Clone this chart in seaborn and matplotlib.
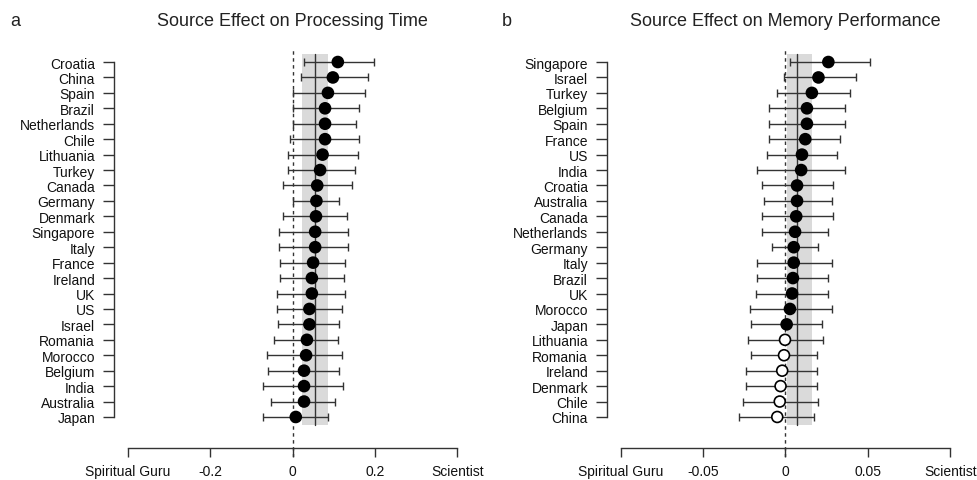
import matplotlib
matplotlib.use("Agg")
import matplotlib.pyplot as plt
import numpy as np
import pandas as pd
import seaborn as sns

# ---- Panel a: source effect on processing time (country estimates, 95% CI) ----
time_countries = ["Croatia", "China", "Spain", "Brazil", "Netherlands", "Chile",
                  "Lithuania", "Turkey", "Canada", "Germany", "Denmark", "Singapore",
                  "Italy", "France", "Ireland", "UK", "US", "Israel", "Romania",
                  "Morocco", "Belgium", "India", "Australia", "Japan"]
time_est = [0.110, 0.098, 0.086, 0.079, 0.079, 0.079, 0.073, 0.067, 0.060, 0.058,
            0.057, 0.055, 0.055, 0.050, 0.047, 0.047, 0.041, 0.041, 0.035, 0.033,
            0.028, 0.028, 0.028, 0.008]
time_lo = [0.028, 0.021, 0.002, 0.002, 0.002, -0.006, -0.012, -0.012, -0.024, 0.002,
           -0.024, -0.032, -0.032, -0.030, -0.030, -0.038, -0.038, -0.034, -0.045,
           -0.063, -0.059, -0.071, -0.051, -0.071]
time_hi = [0.198, 0.183, 0.176, 0.162, 0.155, 0.162, 0.160, 0.152, 0.144, 0.114,
           0.133, 0.135, 0.135, 0.127, 0.125, 0.127, 0.119, 0.114, 0.110, 0.119,
           0.114, 0.123, 0.103, 0.087]
time_pooled = [0.0545, 0.022, 0.086]          # estimate, lower, upper
time_ticks = [-0.4, -0.2, 0.0, 0.2, 0.4]
time_ticklabels = ["Spiritual Guru", "-0.2", "0", "0.2", "Scientist"]

# ---- Panel b: source effect on memory performance ----
mem_countries = ["Singapore", "Israel", "Turkey", "Belgium", "Spain", "France", "US",
                 "India", "Croatia", "Australia", "Canada", "Netherlands", "Germany",
                 "Italy", "Brazil", "UK", "Morocco", "Japan", "Lithuania", "Romania",
                 "Ireland", "Denmark", "Chile", "China"]
mem_est = [0.026, 0.020, 0.016, 0.013, 0.013, 0.012, 0.010, 0.0095, 0.007, 0.007,
           0.0065, 0.0058, 0.005, 0.005, 0.0045, 0.004, 0.0027, 0.0007, -0.0003,
           -0.0009, -0.002, -0.003, -0.0035, -0.005]
mem_lo = [0.003, -0.001, -0.005, -0.010, -0.010, -0.010, -0.011, -0.017, -0.014,
          -0.013, -0.014, -0.014, -0.008, -0.017, -0.017, -0.018, -0.0215, -0.021,
          -0.023, -0.021, -0.024, -0.024, -0.026, -0.028]
mem_hi = [0.051, 0.043, 0.039, 0.036, 0.036, 0.033, 0.031, 0.036, 0.029, 0.028,
          0.029, 0.026, 0.020, 0.028, 0.026, 0.026, 0.028, 0.022, 0.023, 0.019,
          0.019, 0.019, 0.020, 0.017]
mem_pooled = [0.0067, 0.001, 0.0158]
mem_ticks = [-0.1, -0.05, 0.0, 0.05, 0.1]
mem_ticklabels = ["Spiritual Guru", "-0.05", "0", "0.05", "Scientist"]

sns.set_style("ticks")
plt.rcParams["font.family"] = ["Liberation Sans", "DejaVu Sans"]

W, H = 978, 481
fig = plt.figure(figsize=(W / 100, H / 100), dpi=100)


def forest(ax, countries, est, lo, hi, pooled, ticks, ticklabels):
    n = len(countries)
    df = pd.DataFrame({
        "country": countries,
        "est": est,
        "lo": lo,
        "hi": hi,
        "pos": np.arange(n, 0, -1),
    })
    df["sign"] = np.where(df["est"] > 0, "pos", "neg")

    span = ticks[-1] - ticks[0]
    ax.set_xlim(ticks[0] - 0.04 * span, ticks[-1] + 0.04 * span)
    ax.set_ylim(-1.6, n + 0.85)

    # pooled estimate: shaded interval and solid line
    ax.fill_betweenx([0.5, n + 0.5], pooled[1], pooled[2],
                     color="#dadada", lw=0, zorder=0)
    ax.plot([pooled[0], pooled[0]], [0.5, n + 0.5], color="#333333", lw=1.0, zorder=1)
    # zero reference
    ax.axvline(0, color="#333333", lw=1.0, ls=(0, (2.5, 2.5)), zorder=1)

    ax.errorbar(df["est"], df["pos"],
                xerr=[df["est"] - df["lo"], df["hi"] - df["est"]],
                fmt="none", ecolor="#333333", elinewidth=1.0,
                capsize=3, capthick=1.0, zorder=2)
    sns.scatterplot(data=df, x="est", y="pos", hue="sign",
                    palette={"pos": "black", "neg": "white"},
                    edgecolor="black", linewidth=1.2, s=62,
                    legend=False, zorder=3, ax=ax)

    ax.set_yticks(df["pos"])
    ax.set_yticklabels(df["country"], fontsize=10)
    ax.set_xticks(ticks)
    ax.set_xticklabels(ticklabels, fontsize=10)
    ax.set_xlabel("")
    ax.set_ylabel("")

    for s in ("top", "right"):
        ax.spines[s].set_visible(False)
    for s in ("left", "bottom"):
        ax.spines[s].set_color("#333333")
        ax.spines[s].set_linewidth(1.0)
    ax.spines["left"].set_bounds(1, n)
    ax.spines["bottom"].set_position(("data", -1))
    ax.spines["bottom"].set_bounds(ticks[0], ticks[-1])
    ax.tick_params(axis="both", which="major", direction="out",
                   width=1.0, color="#333333", labelcolor="#111111",
                   left=True, bottom=True)
    ax.tick_params(axis="y", length=8, pad=6)
    ax.tick_params(axis="x", length=6.5, pad=5)
    ax.set_facecolor("none")


ax_a = fig.add_axes([114.5 / W, (H - 458.1) / H, 356 / W, 408.2 / H])
ax_b = fig.add_axes([607.5 / W, (H - 458.1) / H, 356 / W, 408.2 / H])

forest(ax_a, time_countries, time_est, time_lo, time_hi, time_pooled,
       time_ticks, time_ticklabels)
forest(ax_b, mem_countries, mem_est, mem_lo, mem_hi, mem_pooled,
       mem_ticks, mem_ticklabels)

ty = 1 - 21 / H
fig.text(292.5 / W, ty, "Source Effect on Processing Time", ha="center",
         va="center", fontsize=13, color="#222222")
fig.text(785.5 / W, ty, "Source Effect on Memory Performance", ha="center",
         va="center", fontsize=13, color="#222222")
fig.text(15 / W, ty, "a", ha="center", va="center", fontsize=13, color="#222222")
fig.text(507 / W, ty, "b", ha="center", va="center", fontsize=13, color="#222222")

fig.savefig("out.png", dpi=100)
